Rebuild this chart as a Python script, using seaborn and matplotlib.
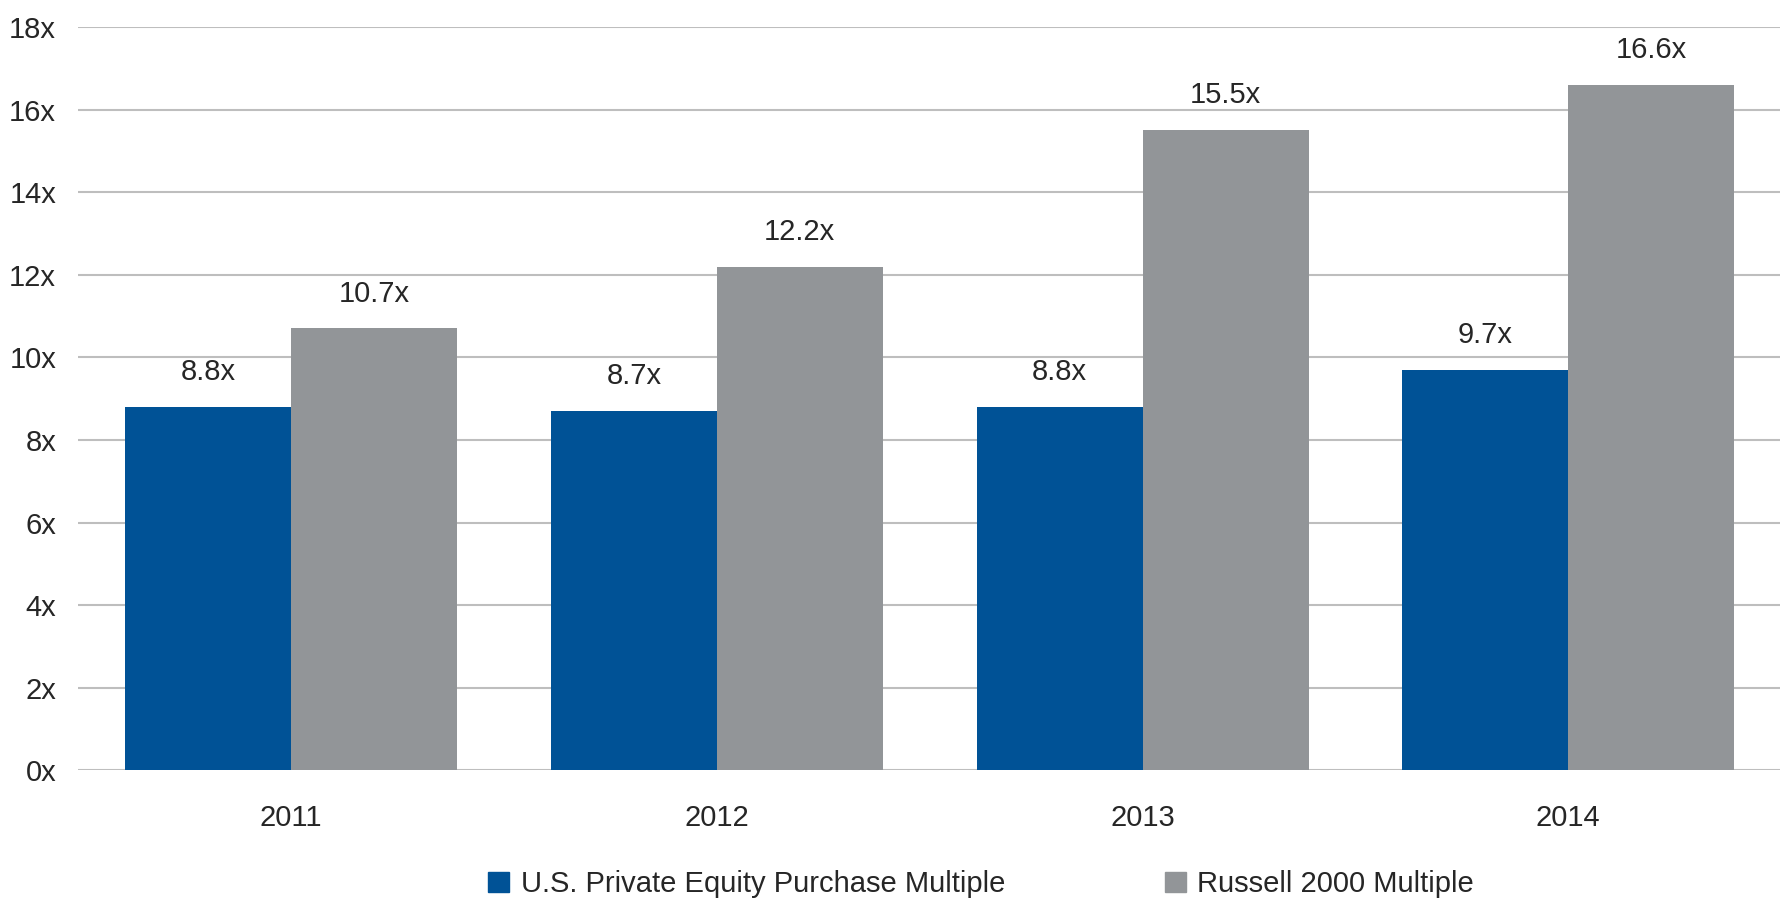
import numpy as np
import pandas as pd
import matplotlib.pyplot as plt
import seaborn as sb
from matplotlib.patches import Patch

# podaci
godine = ['2011', '2012', '2013', '2014']
pe_multiple = [8.8, 8.7, 8.8, 9.7]
russell_multiple = [10.7, 12.2, 15.5, 16.6]
serije = ['U.S. Private Equity Purchase Multiple', 'Russell 2000 Multiple']
boje = ['#005296', '#929598']

df = pd.DataFrame({
    'Godina': godine * 2,
    'Multiple': pe_multiple + russell_multiple,
    'Serija': [serije[0]] * 4 + [serije[1]] * 4,
})

sb.set_style('white')
plt.rcParams['font.family'] = ['Liberation Sans Narrow', 'Liberation Sans', 'DejaVu Sans']

fig, ax = plt.subplots(figsize=(17.81, 9.02), dpi=100)
fig.subplots_adjust(left=0.044, right=1.0, top=0.970, bottom=0.146)

sb.barplot(data=df, x='Godina', y='Multiple', hue='Serija', palette=boje,
           width=0.78, saturation=1, linewidth=0, ax=ax, legend=False)

# oznake iznad stubica
for cont in ax.containers:
    ax.bar_label(cont, labels=[f'{v:.1f}x' for v in cont.datavalues],
                 padding=15, fontsize=21)

ax.set_ylim(0, 18)
ax.set_yticks(range(0, 19, 2))
ax.set_yticklabels([f'{t}x' for t in range(0, 19, 2)], fontsize=21)
ax.tick_params(axis='x', labelsize=21, length=0, pad=24)
ax.tick_params(axis='y', length=0, pad=16)
ax.yaxis.grid(True, color='#BEBEBE', linewidth=1.5)
ax.set_axisbelow(True)
for s in ax.spines.values():
    s.set_visible(False)
ax.set_xlabel('')
ax.set_ylabel('')

handles = [Patch(color=boje[0]), Patch(color=boje[1])]
fig.legend(handles, serije, loc='lower center', bbox_to_anchor=(0.551, -0.025),
           ncol=2, frameon=False, fontsize=21, handlelength=0.7, handleheight=0.7,
           handletextpad=0.4, columnspacing=5.5)

plt.savefig('out.png', dpi=100)
